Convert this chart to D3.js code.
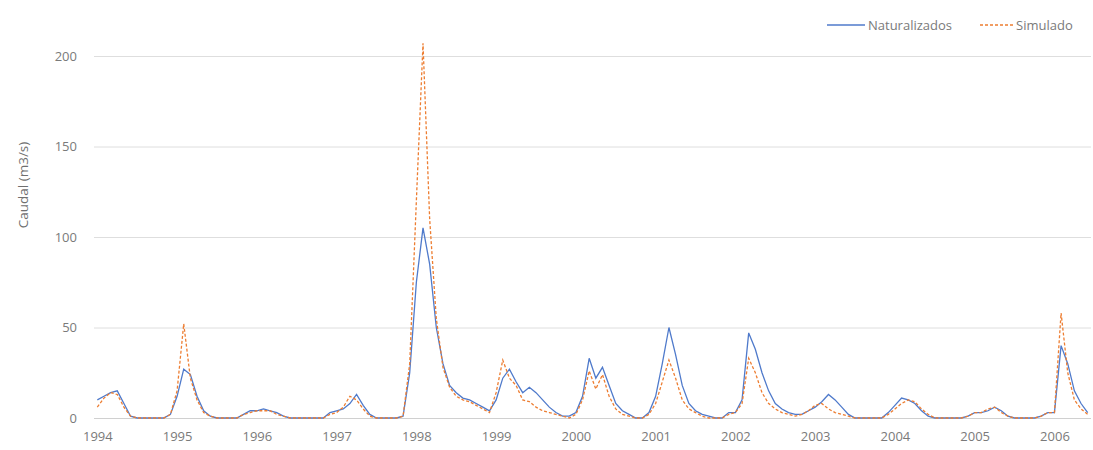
<!DOCTYPE html>
<html>
<head>
<meta charset="utf-8">
<script src="https://cdn.jsdelivr.net/npm/d3@7"></script>
<style>
    body { margin: 0; background: #fff; }
    #chart-area { width: 1093px; height: 450px; }
    text { font-family: "Open Sans", sans-serif; }
</style>
</head>
<body>
<div id="chart-area"></div>
<script>
// year labels on the category axis (one every 12 months)
let years = ['1994', '1995', '1996', '1997', '1998', '1999', '2000',
    '2001', '2002', '2003', '2004', '2005', '2006'];

// monthly flow, m3/s, Jan 1994 .. Jun 2006 (one row per year)
let naturalizados = [
    10, 12, 14, 15, 8, 1, 0, 0, 0, 0, 0, 2,
    12, 27, 24, 12, 4, 1, 0, 0, 0, 0, 2, 4,
    4, 5, 4, 3, 1, 0, 0, 0, 0, 0, 0, 3,
    4, 5, 8, 13, 7, 2, 0, 0, 0, 0, 1, 25,
    75, 105, 85, 50, 30, 18, 14, 11, 10, 8, 6, 4,
    10, 22, 27, 20, 14, 17, 14, 10, 6, 3, 1, 1,
    3, 12, 33, 22, 28, 18, 8, 4, 2, 0, 0, 3,
    12, 30, 50, 35, 18, 8, 4, 2, 1, 0, 0, 3,
    3, 10, 47, 38, 25, 15, 8, 5, 3, 2, 2, 4,
    6, 9, 13, 10, 6, 2, 0, 0, 0, 0, 0, 3,
    7, 11, 10, 8, 4, 1, 0, 0, 0, 0, 0, 1,
    3, 3, 4, 6, 4, 1, 0, 0, 0, 0, 1, 3,
    3, 40, 30, 15, 8, 3
];

let simulado = [
    6, 11, 14, 13, 6, 1, 0, 0, 0, 0, 0, 2,
    15, 52, 22, 10, 3, 1, 0, 0, 0, 0, 2, 3,
    4, 4, 4, 2, 1, 0, 0, 0, 0, 0, 0, 2,
    3, 6, 12, 10, 5, 1, 0, 0, 0, 0, 1, 30,
    120, 207, 110, 55, 28, 17, 12, 10, 9, 7, 5, 3,
    14, 32, 22, 18, 10, 9, 6, 4, 3, 2, 1, 0,
    2, 10, 26, 16, 24, 12, 5, 2, 1, 0, 0, 2,
    8, 20, 32, 22, 10, 5, 3, 1, 0, 0, 0, 2,
    3, 8, 33, 25, 14, 8, 5, 3, 2, 1, 2, 4,
    7, 8, 5, 3, 2, 1, 0, 0, 0, 0, 0, 2,
    5, 8, 10, 9, 5, 2, 0, 0, 0, 0, 0, 1,
    3, 3, 5, 6, 3, 1, 0, 0, 0, 0, 1, 3,
    3, 58, 25, 10, 5, 2
];

let yTicks = [0, 50, 100, 150, 200];

class FlowChart {
    constructor(parentElement) {
        this.parentElement = parentElement;

        // one category per month, named year-month
        this.categories = naturalizados.map((d, i) => years[Math.floor(i / 12)] + '-' + (i % 12 + 1));

        this.series = [
            {name: 'Naturalizados', values: naturalizados, color: '#4f7acb', dash: null},
            {name: 'Simulado', values: simulado, color: '#ed7d31', dash: '3,2'}
        ];

        this.initVis();
    }

    initVis() {
        let vis = this;

        vis.margin = {top: 56, right: 2, bottom: 32, left: 94};
        vis.width = 1093 - vis.margin.left - vis.margin.right;
        vis.height = 450 - vis.margin.top - vis.margin.bottom;

        vis.svg = d3.select('#' + vis.parentElement).append('svg')
            .attr('width', 1093)
            .attr('height', 450)
            .append('g')
            .attr('transform', 'translate(' + vis.margin.left + ',' + vis.margin.top + ')');

        vis.x = d3.scalePoint()
            .domain(vis.categories)
            .range([0, vis.width])
            .padding(0.5);

        vis.y = d3.scaleLinear()
            .domain([0, 200])
            .range([vis.height, 0]);

        vis.updateVis();
    }

    updateVis() {
        let vis = this;

        // gridlines + y labels
        let yAxis = vis.svg.append('g')
            .call(d3.axisLeft(vis.y).tickValues(yTicks).tickSize(-vis.width).tickPadding(17));
        yAxis.select('.domain').remove();
        yAxis.selectAll('line')
            .attr('stroke', d => d === 0 ? '#d0d0d0' : '#dedede')
            .attr('stroke-width', 1);
        yAxis.selectAll('text')
            .attr('fill', '#7a7a7a')
            .attr('font-size', '13px');

        // year labels, every 12th category
        let xAxis = vis.svg.append('g')
            .attr('transform', 'translate(0,' + vis.height + ')')
            .call(d3.axisBottom(vis.x)
                .tickValues(vis.categories.filter((d, i) => i % 12 === 0))
                .tickFormat(d => d.split('-')[0])
                .tickSize(0)
                .tickPadding(14));
        xAxis.select('.domain').remove();
        xAxis.selectAll('text')
            .attr('fill', '#7a7a7a')
            .attr('font-size', '13px');

        let line = d3.line()
            .x((d, i) => vis.x(vis.categories[i]))
            .y(d => vis.y(d));

        vis.svg.selectAll('.flow')
            .data(vis.series)
            .enter()
            .append('path')
            .attr('class', 'flow')
            .attr('d', d => line(d.values))
            .attr('fill', 'none')
            .attr('stroke', d => d.color)
            .attr('stroke-width', 1.3)
            .attr('stroke-dasharray', d => d.dash);

        // axis title
        vis.svg.append('text')
            .attr('transform', 'translate(' + (23 - vis.margin.left) + ',' + (185 - vis.margin.top) + ') rotate(-90)')
            .attr('text-anchor', 'middle')
            .attr('dy', '0.35em')
            .attr('fill', '#6f6f6f')
            .attr('font-size', '13.5px')
            .text('Caudal (m3/s)');

        // legend
        let legendPos = [827, 980];
        let legend = vis.svg.selectAll('.legend')
            .data(vis.series)
            .enter()
            .append('g')
            .attr('class', 'legend')
            .attr('transform', (d, i) => 'translate(' + (legendPos[i] - vis.margin.left) + ',' + (25 - vis.margin.top) + ')');

        legend.append('line')
            .attr('x1', 0)
            .attr('x2', d => d.dash ? 33 : 38)
            .attr('stroke', d => d.color)
            .attr('stroke-width', 1.3)
            .attr('stroke-dasharray', d => d.dash);

        legend.append('text')
            .attr('x', d => d.dash ? 36 : 41)
            .attr('dy', '0.35em')
            .attr('fill', '#7a7a7a')
            .attr('font-size', '13px')
            .text(d => d.name);
    }
}

new FlowChart('chart-area');
</script>
</body>
</html>
